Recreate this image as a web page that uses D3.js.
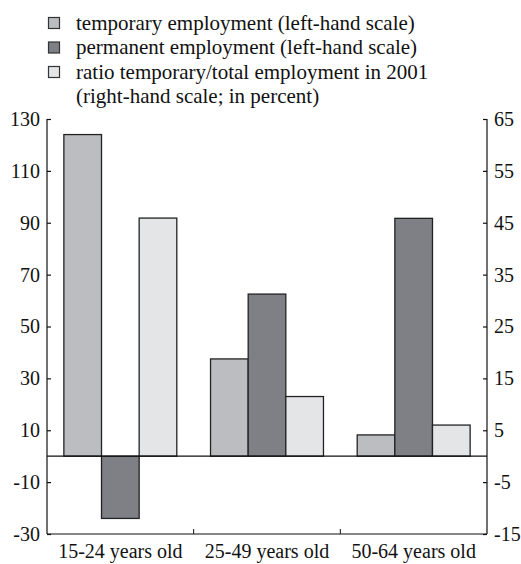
<!DOCTYPE html>
<html><head><meta charset="utf-8">
<script src="https://cdn.jsdelivr.net/npm/d3@7"></script>
<style>body{margin:0;background:#fff}svg{display:block}</style>
</head><body><svg id="c" width="521" height="564"></svg>
<script>
const categories = ["15-24 years old", "25-49 years old", "50-64 years old"];
const temporary = [124, 37.5, 8.2];
const permanent = [-24, 62.5, 91.7];
const ratio = [45.9, 11.5, 6];
const leftTicks = [-30, -10, 10, 30, 50, 70, 90, 110, 130];
const rightTicks = [-15, -5, 5, 15, 25, 35, 45, 55, 65];
const legendLabels = ["temporary employment (left-hand scale)", "permanent employment (left-hand scale)", "ratio temporary/total employment in 2001", "(right-hand scale; in percent)"];
const colors = ["#bcbdc1", "#7f8085", "#e4e5e7"];

const FONT = "Liberation Serif, DejaVu Serif, Times New Roman, serif";
const svg = d3.select("#c");
const L = 47, R = 487, T = 119, B = 534;
const fs = 20;
const x = d3.scaleBand().domain(categories).range([L, R]).paddingInner(0.23).paddingOuter(0.115);
const xo = d3.scaleBand().domain([0,1,2]).range([0, x.bandwidth()]);
const yl = d3.scaleLinear().domain([-30, 130]).range([B, T]);
const yr = d3.scaleLinear().domain([-15, 65]).range([B, T]);

const series = [
  {vals: temporary, y: yl, c: colors[0]},
  {vals: permanent, y: yl, c: colors[1]},
  {vals: ratio, y: yr, c: colors[2]}
];
series.forEach((s, i) => {
  svg.append("g").selectAll("rect").data(s.vals).join("rect")
    .attr("x", (d, j) => x(categories[j]) + xo(i))
    .attr("width", xo.bandwidth())
    .attr("y", d => Math.min(s.y(d), s.y(0)))
    .attr("height", d => Math.abs(s.y(d) - s.y(0)))
    .attr("fill", s.c).attr("stroke", "#222").attr("stroke-width", 1.3);
});

svg.append("line").attr("x1", L).attr("x2", R).attr("y1", yl(0)).attr("y2", yl(0)).attr("stroke", "#111").attr("stroke-width", 1.2);

const fmt = d => String(d);
const ga = svg.append("g").attr("transform", `translate(${L},0)`)
  .call(d3.axisRight(yl).tickValues(leftTicks).tickSize(4).tickFormat(fmt));
ga.select(".domain").attr("d", `M0,${T}V${B}`);
ga.selectAll("text").attr("x", -7).attr("text-anchor", "end");
const gr = svg.append("g").attr("transform", `translate(${R},0)`)
  .call(d3.axisLeft(yr).tickValues(rightTicks).tickSize(4).tickFormat(fmt));
gr.select(".domain").attr("d", `M0,${T}V${B}`);
gr.selectAll("text").attr("x", 7).attr("text-anchor", "start");
const gb = svg.append("g").attr("transform", `translate(0,${B})`)
  .call(d3.axisBottom(x).tickSize(0));
gb.select(".domain").attr("d", `M${L},0H${R}`);
gb.selectAll("text").attr("dy", 0).attr("y", 24);
const divs = categories.slice(1).map(c => x(c) - x.step() * x.paddingInner() / 2);
svg.append("g").selectAll("line").data(divs).join("line")
  .attr("x1", d => d).attr("x2", d => d).attr("y1", B).attr("y2", B - 5).attr("stroke", "#111");

svg.selectAll(".tick line, .domain").attr("stroke", "#111").attr("stroke-width", 1.2);

svg.selectAll("g").attr("font-family", null).attr("font-size", null);
svg.selectAll("text").attr("font-family", FONT).attr("font-size", fs).attr("fill", "#111")
  .style("font-family", FONT).style("font-size", fs + "px");

const lg = svg.append("g");
const ly = [23, 47.5, 72, 96.5];
legendLabels.forEach((t, i) => {
  if (i < 3) lg.append("rect").attr("x", 48.5).attr("y", ly[i] - 5.5).attr("width", 11).attr("height", 11)
    .attr("fill", colors[i]).attr("stroke", "#333").attr("stroke-width", 1.2);
  lg.append("text").attr("x", 76).attr("y", ly[i] + 6.5).text(t)
    .attr("font-family", FONT).style("font-family", FONT).style("font-size", "21px").attr("fill", "#111");
});
</script></body></html>
